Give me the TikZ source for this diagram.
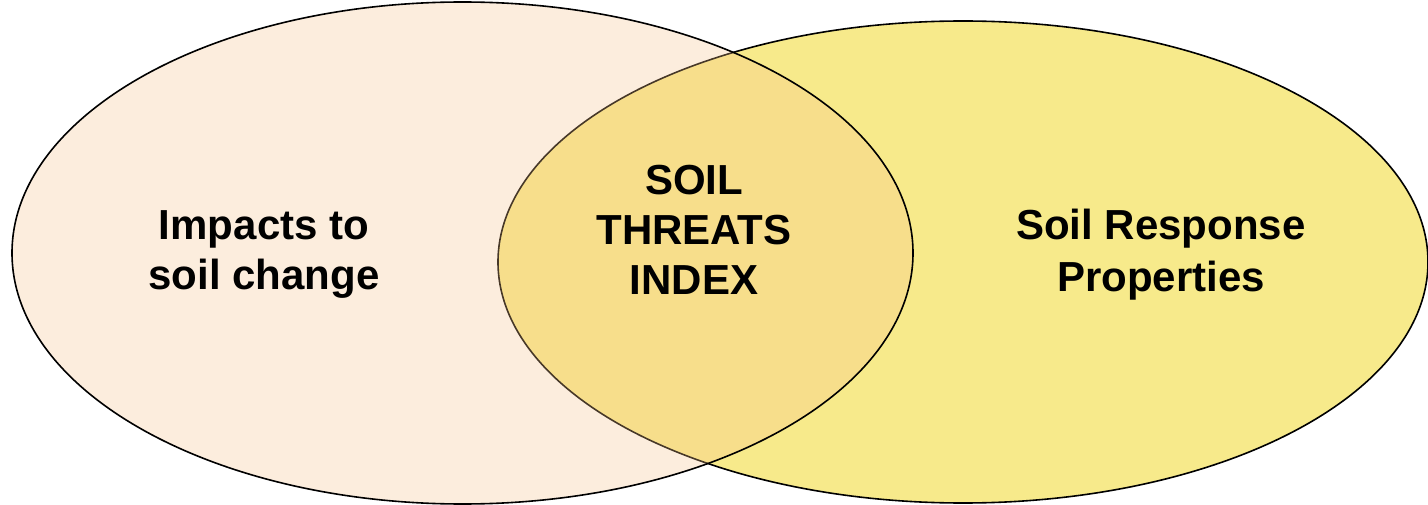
\documentclass[tikz,border=0pt]{standalone}
\usepackage{fontspec}
\setmainfont{Liberation Sans}
\definecolor{peach}{RGB}{248,196,140}
\definecolor{yell}{RGB}{247,234,139}
\tikzset{
  lbl/.style={font=\bfseries\fontsize{42}{50}\selectfont, align=center, text=black, inner sep=0pt},
  venn/.style={draw=black, line width=1.6pt}
}
\begin{document}
\begin{tikzpicture}[x=1pt,y=-1pt]
\useasboundingbox (0,0) rectangle (1428,505);
\fill[white] (0,0) rectangle (1428,505);
% right circle
\draw[venn, fill=yell] (963,262) ellipse [x radius=465, y radius=241];
% left circle (semi-transparent)
\draw[venn, fill=peach, fill opacity=0.29] (462.5,253) ellipse [x radius=450.5, y radius=251];
\node[lbl] (impacts) at (264,255) {Impacts to\\soil change};
\node[lbl] (sti) at (694,230) {SOIL\\THREATS\\INDEX};
\node[lbl, font=\bfseries\fontsize{42}{52}\selectfont] (srp) at (1161,255) {Soil Response\\Properties};
\end{tikzpicture}
\end{document}
